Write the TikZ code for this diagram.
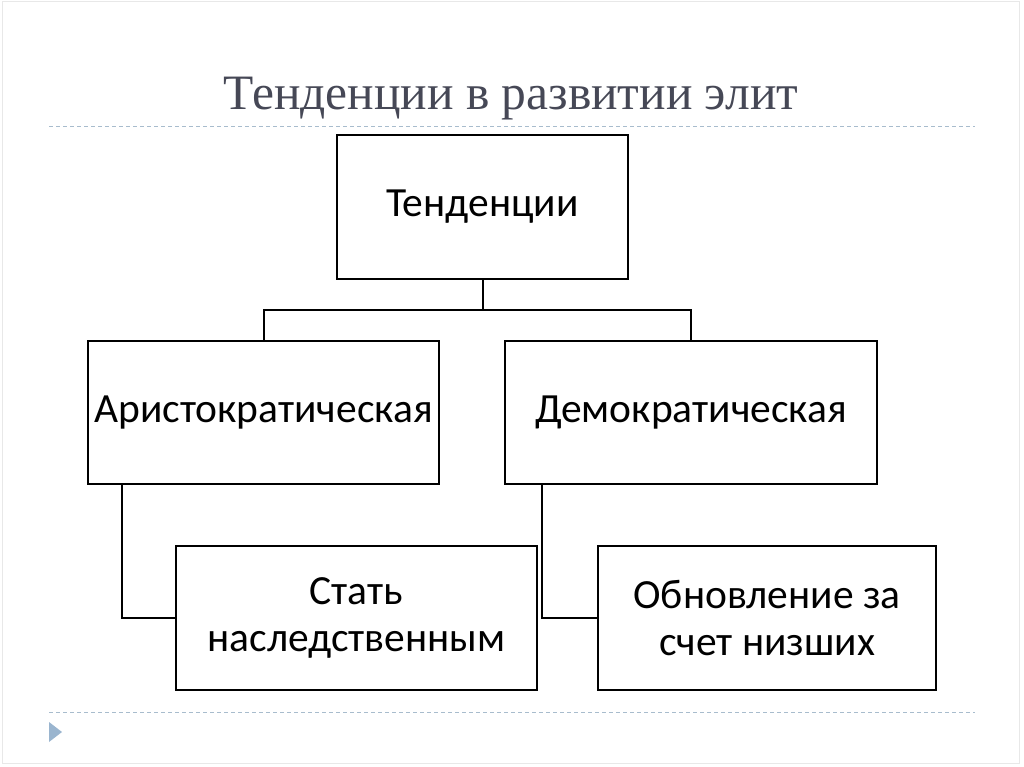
\documentclass[tikz,border=0pt]{standalone}
\usepackage{fontspec}
\setmainfont{Carlito}
\newfontfamily\titlefont{Liberation Serif}
\definecolor{titlegrey}{RGB}{70,72,86}
\definecolor{dashblue}{RGB}{168,188,205}
\definecolor{triblue}{RGB}{154,181,207}
\definecolor{framegrey}{RGB}{232,232,232}
\tikzset{
  box/.style={draw=black, line width=2pt, inner sep=0pt, align=center,
    font=\fontsize{41.5}{47}\selectfont, text=black},
  link/.style={draw=black, line width=2pt},
  sep/.style={draw=dashblue, line width=1pt, dash pattern=on 4pt off 3pt}
}
\begin{document}
\begin{tikzpicture}[x=1pt,y=-1pt]
\useasboundingbox (0,0) rectangle (1024,767);
\draw[framegrey, line width=1pt] (2,2) rectangle (1019,763);
\node[text=titlegrey, font=\titlefont\fontsize{49.5}{52}\selectfont, anchor=base] (title) at (511,110) {Тенденции в развитии элит};
\draw[sep] (49,127) -- (975,127);
\draw[sep] (49,712) -- (975,712);
\fill[triblue] (49,722) -- (49,742) -- (62,732) -- cycle;

\node[box, minimum width=291pt, minimum height=144pt] (top) at (482.5,207) {Тенденции};
\node[box, minimum width=351pt, minimum height=143pt] (left) at (263.5,412.5) {Аристократическая};
\node[box, minimum width=372pt, minimum height=143pt] (right) at (691,412.5) {Демократическая};
\node[box, minimum width=361pt, minimum height=144pt] (bl) at (356.5,618) {Стать\\наследственным};
\node[box, minimum width=338pt, minimum height=144pt] (br) at (767,618) {Обновление за\\счет низших};

\coordinate (bus) at (482.5,310);
\draw[link] (top.south) -- (bus) -| (left.north);
\draw[link] (bus) -| (right.north);
\draw[link] ([xshift=35pt]left.south west) |- (bl.west);
\draw[link] ([xshift=38pt]right.south west) |- (br.west);
\end{tikzpicture}
\end{document}
